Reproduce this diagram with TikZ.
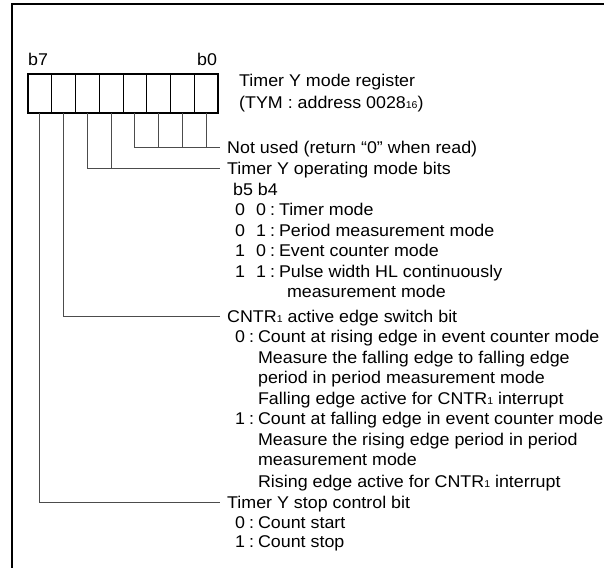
\documentclass[tikz,border=0pt]{standalone}
\usepackage{fontspec}
\setmainfont[FakeStretch=1.05]{Liberation Sans}
\usepackage{tikz}
\usetikzlibrary{positioning}

\newcommand{\idx}[1]{{\fontsize{10}{10}\selectfont #1}}
\newcommand{\col}{\hspace{4pt}:\hspace{4pt}}

\tikzset{
  txt/.style={anchor=west, inner sep=0pt, text height=12pt, text depth=0pt, font=\fontsize{17}{20}\selectfont},
  head/.style={txt, inner xsep=7pt},
  cell/.style={draw, line width=0.8pt, minimum width=23.75pt, minimum height=38.6pt, inner sep=0pt, outer sep=0pt},
  lead/.style={line width=0.9pt, black!70},
}

\begin{document}
\begin{tikzpicture}[x=1pt, y=-1pt]
		\useasboundingbox (0,0) rectangle (604,567);
		\clip (0,0) rectangle (604,567);
		\fill[white] (0,0) rectangle (604,567);

		% Outer frame (cut by the page at right and bottom)
		\draw[line width=2pt] (620,4) -| (12,580);

		% Register cells b7 ... b0
		\foreach \i in {0,...,7}
			\node[cell] (b\i) at ({206.1-23.75*\i},93.4) {};
		\draw[line width=1.6pt] (b7.north west) rectangle (b0.south east);
		\node[txt] (lb7) at (28,60) {b7};
		\node[txt] (lb0) at (197,60) {b0};

		% Register name
		\node[txt] (regname) at (239,81) {Timer Y mode register};
		\node[txt] (regaddr) at (239,102.5) {(TYM : address 0028\idx{16})};

		% Bit descriptions
		\node[head] (notused) at (220,147.3) {Not used (return “0” when read)};
		\node[head] (opmode) at (220,168) {Timer Y operating mode bits};
		\node[txt] (bits) at (233,189) {b5 b4};
		\node[txt] (m00) at (235,209.5) {0\hspace{11pt}0\col Timer mode};
		\node[txt] (m01) at (235,230) {0\hspace{11pt}1\col Period measurement mode};
		\node[txt] (m10) at (235,250.5) {1\hspace{11pt}0\col Event counter mode};
		\node[txt] (m11) at (235,271) {1\hspace{11pt}1\col Pulse width HL continuously};
		\node[txt] (m11b) at (243,291) {\phantom{1\hspace{11pt}1\col}measurement mode};

		\node[head] (cntr) at (220,316) {CNTR\idx{1} active edge switch bit};
		\node[txt] (c0) at (235,336.5) {0\col Count at rising edge in event counter mode};
		\node[txt] (c0b) at (235,357) {\phantom{0\col}Measure the falling edge to falling edge};
		\node[txt] (c0c) at (235,377.5) {\phantom{0\col}period in period measurement mode};
		\node[txt] (c0d) at (235,398) {\phantom{0\col}Falling edge active for CNTR\idx{1} interrupt};
		\node[txt] (c1) at (235,418.5) {1\col Count at falling edge in event counter mode};
		\node[txt] (c1b) at (235,439) {\phantom{1\col}Measure the rising edge period in period};
		\node[txt] (c1c) at (235,459.5) {\phantom{1\col}measurement mode};
		\node[txt] (c1d) at (235,481) {\phantom{1\col}Rising edge active for CNTR\idx{1} interrupt};

		\node[head] (stop) at (220,502) {Timer Y stop control bit};
		\node[txt] (s0) at (235,522) {0\col Count start};
		\node[txt] (s1) at (235,541.5) {1\col Count stop};

		% Leaders from the cells
		\draw[lead] (b3.south) |- (notused.west);
		\foreach \i in {0,1,2}
			\draw[lead] (b\i.south) -- (b\i.south |- notused.west);
		\draw[lead] (b5.south) |- (opmode.west);
		\draw[lead] (b4.south) -- (b4.south |- opmode.west);
		\draw[lead] (b6.south) |- (cntr.west);
		\draw[lead] (b7.south) |- (stop.west);
	\end{tikzpicture}
\end{document}
